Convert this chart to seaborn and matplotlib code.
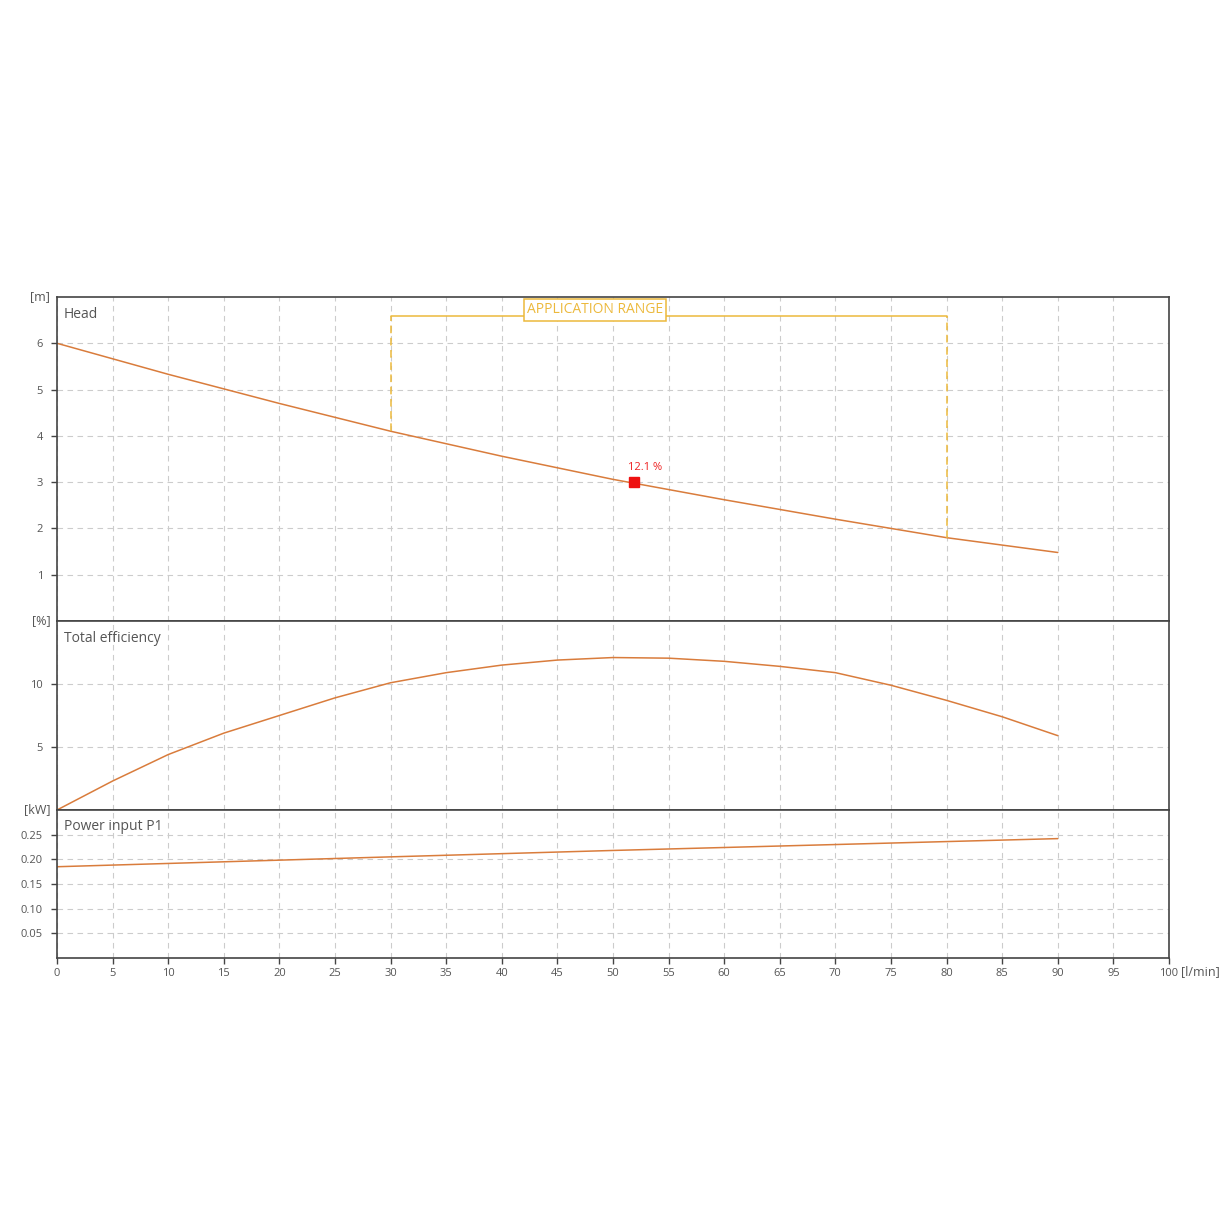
import numpy as np
import pandas as pd
import seaborn as sns
import matplotlib.pyplot as plt

# flow [l/min]
flow = [0, 10, 20, 30, 40, 50, 60, 70, 80, 90]
head = [6.0, 5.33, 4.70, 4.10, 3.56, 3.06, 2.62, 2.20, 1.80, 1.48]

eff_flow = [0, 5, 10, 15, 20, 25, 30, 35, 40, 45, 50, 55, 60, 65, 70, 75, 80, 85, 90]
efficiency = [0.0, 2.3, 4.4, 6.1, 7.5, 8.9, 10.1, 10.9, 11.5, 11.9, 12.1, 12.05, 11.8, 11.4, 10.9, 9.9, 8.7, 7.4, 5.9]

power_flow = [0, 30, 50, 70, 90]
power = [0.185, 0.205, 0.218, 0.230, 0.242]

app_range = [30, 80]
app_top = 6.6
duty_flow = 51.9
duty_head = 3.0
duty_label = "12.1 %"

sns.set_theme(style="white")
plt.rcParams['font.family'] = ['Open Sans', 'DejaVu Sans']

curve_col = '#d97c3c'
app_col = '#ecb93c'
grid_col = '#cccccc'
text_col = '#555555'

fig = plt.figure(figsize=(12.3, 12.3), dpi=100)
L, W = 57 / 1230, (1169 - 57) / 1230
def ypos(top, bot):
    return [L, 1 - bot / 1230, W, (bot - top) / 1230]

ax_h = fig.add_axes(ypos(297, 621))
ax_e = fig.add_axes(ypos(621, 810))
ax_p = fig.add_axes(ypos(810, 958))

df_h = pd.DataFrame({'flow': flow, 'head': head})
df_e = pd.DataFrame({'flow': eff_flow, 'eff': efficiency})
df_p = pd.DataFrame({'flow': power_flow, 'power': power})

sns.lineplot(data=df_h, x='flow', y='head', ax=ax_h, color=curve_col, lw=1.1)
sns.lineplot(data=df_e, x='flow', y='eff', ax=ax_e, color=curve_col, lw=1.1)
sns.lineplot(data=df_p, x='flow', y='power', ax=ax_p, color=curve_col, lw=1.1)

ax_h.set_ylim(0, 7)
ax_h.set_yticks([1, 2, 3, 4, 5, 6])
ax_e.set_ylim(0, 15)
ax_e.set_yticks([5, 10])
ax_p.set_ylim(0, 0.3)
ax_p.set_yticks([0.05, 0.10, 0.15, 0.20, 0.25])
ax_p.set_yticklabels(['0.05', '0.10', '0.15', '0.20', '0.25'])

for ax, title, unit in [(ax_h, 'Head', '[m]'), (ax_e, 'Total efficiency', '[%]'), (ax_p, 'Power input P1', '[kW]')]:
    ax.set_xlim(0, 100)
    ax.set_xticks(np.arange(0, 101, 5))
    ax.grid(True, color=grid_col, ls=(0, (5, 4)), lw=0.8)
    ax.set_xlabel('')
    ax.set_ylabel('')
    for s in ax.spines.values():
        s.set_color('#444444')
        s.set_linewidth(1.2)
    ax.tick_params(axis='y', left=True, length=4, width=1, color='#444444', labelsize=8, labelcolor=text_col, pad=6)
    ax.tick_params(axis='x', bottom=True, length=4, width=1, color='#444444', labelsize=8, labelcolor=text_col)
    ax.annotate(title, xy=(0, 1), xycoords='axes fraction', xytext=(7, -17), textcoords='offset pixels',
                ha='left', va='center', fontsize=10, color=text_col)
    ax.text(-0.006, 1.0, unit, transform=ax.transAxes, ha='right', va='center', fontsize=9, color=text_col)

ax_h.tick_params(axis='x', labelbottom=False, bottom=False)
ax_e.tick_params(axis='x', labelbottom=False, bottom=False)
ax_p.text(1.011, -0.09, '[l/min]', transform=ax_p.transAxes, ha='left', va='center', fontsize=9, color=text_col)

# application range
ax_h.plot(app_range, [app_top, app_top], color=app_col, lw=1.1)
for xv in app_range:
    yv = np.interp(xv, flow, head)
    ax_h.plot([xv, xv], [yv, app_top], color=app_col, lw=1.1, ls=(0, (5, 3)))
ax_h.text(48.4, 6.72, 'APPLICATION RANGE', ha='center', va='center', fontsize=10,
          color=app_col, bbox=dict(boxstyle='square,pad=0.22', fc='white', ec=app_col, lw=1.1))

# duty point
ax_h.plot([duty_flow], [duty_head], marker='s', ms=7, color='#ee1111', ls='none', zorder=5)
ax_h.text(duty_flow + 1.0, duty_head + 0.2, duty_label, ha='center', va='bottom', fontsize=8, color='#ee2222')

fig.savefig('out.png', dpi=100, facecolor='white')
